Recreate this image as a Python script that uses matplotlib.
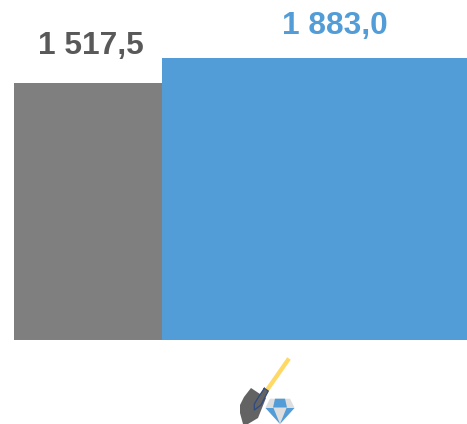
import matplotlib
matplotlib.use('Agg')
import matplotlib.pyplot as plt
from matplotlib.patches import Polygon

values = [1517.5, 1883.0]
labels = ['1 517,5', '1 883,0']
widths = [148, 305]
bar_colors = ['#7f7f7f', '#529dd7']
text_colors = ['#595959', '#529dd7']
# the labels are not centred on the bars in the original
label_shift = [3, 20.5]
label_gap = [29, 24]

W, H = 467, 424
plt.rcParams['font.family'] = ['Liberation Sans', 'DejaVu Sans']

fig = plt.figure(figsize=(W/100, H/100), dpi=100)

# the bars do not start at zero in the original
base = -2240.0
top = 1883.0

ax = fig.add_axes([14/W, 1 - 340/H, (W - 14)/W, 282/H])
ax.set_xlim(0, sum(widths))
ax.set_ylim(base, top)
ax.axis('off')

left = 0
for i, v in enumerate(values):
    w = widths[i]
    ax.bar(left, v - base, width=w, bottom=base, align='edge', color=bar_colors[i], linewidth=0)
    ax.annotate(labels[i], (left + w/2, v), xytext=(label_shift[i], label_gap[i]),
                textcoords='offset pixels', ha='center', va='baseline',
                fontsize=22.8, fontweight='bold', color=text_colors[i], annotation_clip=False)
    left += w

# icon, in pixels of the crop
ic = fig.add_axes([0, 0, 1, 1], facecolor='none')
ic.set_xlim(0, W)
ic.set_ylim(H, 0)
ic.axis('off')


def poly(pts, col):
    ic.add_patch(Polygon(pts, closed=True, facecolor=col, edgecolor='none'))


# shovel
ic.plot([289, 267], [358.5, 390], color='#ffd966', lw=3.1, solid_capstyle='butt')
poly([(251, 388), (266, 398), (258, 418), (248, 424), (243, 424), (240, 413), (240, 405), (244, 397)], '#636363')
xs = [264.3, 268.3, 261, 254.3, 254.3, 258.7, 264.3]
ys = [388.3, 391, 405, 410, 404, 396.7, 388.3]
poly(list(zip(xs, ys)), '#636363')
ic.plot(xs, ys, color='#2f4a80', lw=0.9)

# diamond
poly([(270, 398.7), (290, 398.7), (294.5, 407.5), (280, 424), (265.5, 407.5)], '#dedede')
poly([(275, 398.7), (285, 398.7), (287, 407.5), (273, 407.5)], '#529dd7')
poly([(265.5, 408), (273.5, 408), (280, 424)], '#529dd7')
poly([(294.5, 408), (286.5, 408), (280, 424)], '#529dd7')

fig.savefig('out.png', dpi=100)
